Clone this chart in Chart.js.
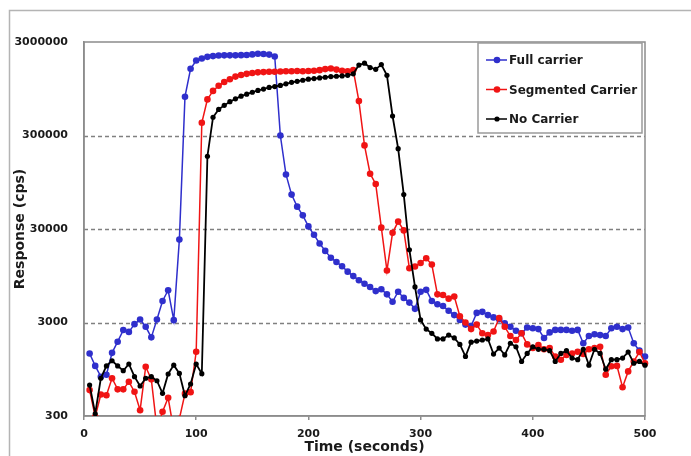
<!DOCTYPE html>
<html>
<head>
<meta charset="utf-8">
<script src="https://cdn.jsdelivr.net/npm/chart.js@4/dist/chart.umd.min.js"></script>
<style>
  html, body { margin: 0; padding: 0; background: #fff; }
  #wrap { width: 691px; height: 456px; position: relative; }
</style>
</head>
<body>
<div id="wrap"><canvas id="myChart"></canvas></div>
<script>
// time in seconds
const times = [5, 10, 15, 20, 25, 30, 35, 40, 45, 50,
  55, 60, 65, 70, 75, 80, 85, 90, 95, 100,
  105, 110, 115, 120, 125, 130, 135, 140, 145, 150,
  155, 160, 165, 170, 175, 180, 185, 190, 195, 200,
  205, 210, 215, 220, 225, 230, 235, 240, 245, 250,
  255, 260, 265, 270, 275, 280, 285, 290, 295, 300,
  305, 310, 315, 320, 325, 330, 335, 340, 345, 350,
  355, 360, 365, 370, 375, 380, 385, 390, 395, 400,
  405, 410, 415, 420, 425, 430, 435, 440, 445, 450,
  455, 460, 465, 470, 475, 480, 485, 490, 495, 500];

const fullCarrier = [1400, 1030, 790, 830, 1420, 1870, 2490, 2380, 2880, 3230,
  2700, 2080, 3230, 5100, 6640, 3180, 23100, 780000, 1550000, 1900000,
  2000000, 2080000, 2120000, 2150000, 2160000, 2160000, 2160000, 2170000, 2180000, 2210000,
  2250000, 2230000, 2200000, 2100000, 300000, 115000, 70000, 52000, 42000, 32000,
  26000, 21000, 17500, 14800, 13300, 12000, 10500, 9400, 8500, 7800,
  7200, 6500, 6800, 6000, 5000, 6400, 5500, 4900, 4200, 6400,
  6700, 5100, 4700, 4500, 4000, 3600, 3200, 2850, 2750, 3800,
  3900, 3600, 3400, 3250, 2950, 2700, 2450, 2300, 2650, 2600,
  2550, 2050, 2350, 2500, 2500, 2500, 2450, 2500, 1800, 2150,
  2250, 2200, 2150, 2600, 2700, 2550, 2650, 1800, 1500, 1300];

const segmentedCarrier = [568, 295, 510, 500, 760, 578, 578, 697, 546, 346,
  1010, 740, 220, 333, 470, 210, 280, 520, 540, 1460,
  410000, 730000, 900000, 1020000, 1120000, 1200000, 1280000, 1330000, 1370000, 1400000,
  1420000, 1430000, 1440000, 1440000, 1450000, 1460000, 1460000, 1470000, 1460000, 1470000,
  1480000, 1500000, 1540000, 1560000, 1520000, 1480000, 1460000, 1500000, 700000, 235000,
  117000, 91000, 31000, 10800, 27300, 36000, 29000, 11400, 11900, 13000,
  14600, 12500, 6000, 5900, 5400, 5700, 3500, 3000, 2550, 2850,
  2300, 2200, 2400, 3350, 2700, 2150, 1950, 2300, 1750, 1600,
  1720, 1550, 1600, 1300, 1200, 1350, 1400, 1460, 1380, 1550,
  1600, 1650, 830, 1020, 1030, 610, 900, 1150, 1450, 1100];

const noCarrier = [643, 317, 760, 1030, 1170, 1030, 915, 1080, 790, 628,
  760, 790, 715, 524, 844, 1050, 857, 494, 660, 1080,
  850, 180000, 470000, 570000, 630000, 690000, 740000, 790000, 830000, 870000,
  910000, 940000, 980000, 1000000, 1030000, 1070000, 1110000, 1140000, 1170000, 1200000,
  1220000, 1240000, 1260000, 1280000, 1290000, 1300000, 1320000, 1370000, 1700000, 1780000,
  1600000, 1530000, 1720000, 1320000, 485000, 217000, 70000, 18000, 7200, 3200,
  2550, 2300, 2000, 2000, 2200, 2050, 1750, 1300, 1850, 1900,
  1950, 2000, 1380, 1600, 1350, 1800, 1650, 1150, 1400, 1650,
  1550, 1550, 1500, 1150, 1400, 1500, 1250, 1200, 1550, 1050,
  1550, 1400, 950, 1200, 1200, 1250, 1450, 1100, 1150, 1050];

const seriesNames = ['Full carrier', 'Segmented Carrier', 'No Carrier'];
const yTicks = [300, 3000, 30000, 300000, 3000000];
const xTicks = [0, 100, 200, 300, 400, 500];

function toPoints(values) {
  return times.map((t, i) => ({x: t, y: values[i]}));
}

Chart.defaults.font.family = 'DejaVu Sans';
Chart.defaults.font.weight = 'bold';
Chart.defaults.color = '#1a1a1a';

// outer frame, dashed gridlines, plot area border
const frames = {
  id: 'frames',
  beforeDraw(chart) {
    const ctx = chart.ctx;
    ctx.save();
    ctx.strokeStyle = '#b4b4b4';
    ctx.lineWidth = 1.5;
    ctx.strokeRect(9.5, 10.5, 700, 470);
    ctx.restore();
  },
  beforeDatasetsDraw(chart) {
    const a = chart.chartArea;
    const ctx = chart.ctx;
    const ys = chart.scales.y;
    ctx.save();
    ctx.strokeStyle = '#808080';
    ctx.lineWidth = 1.5;
    ctx.setLineDash([4, 3]);
    yTicks.slice(1, -1).forEach(v => {
      const py = Math.round(ys.getPixelForValue(v)) + 0.5;
      ctx.beginPath();
      ctx.moveTo(a.left, py);
      ctx.lineTo(a.right, py);
      ctx.stroke();
    });
    ctx.setLineDash([]);
    ctx.strokeStyle = '#8c8c8c';
    ctx.strokeRect(a.left, a.top, a.right - a.left, a.bottom - a.top);
    ctx.restore();
  }
};

// legend drawn inside the plot, top right
const boxLegend = {
  id: 'boxLegend',
  afterDraw(chart) {
    const a = chart.chartArea;
    const ctx = chart.ctx;
    const bx = a.right - 167, by = a.top + 1, bw = 164, bh = 90;
    ctx.save();
    ctx.fillStyle = '#fff';
    ctx.fillRect(bx, by, bw, bh);
    ctx.strokeStyle = '#9a9a9a';
    ctx.lineWidth = 1.5;
    ctx.strokeRect(bx, by, bw, bh);
    ctx.font = 'bold 12px "DejaVu Sans"';
    ctx.textBaseline = 'middle';
    chart.data.datasets.forEach((ds, i) => {
      const y = by + 17 + i * 29.5;
      ctx.strokeStyle = ds.borderColor;
      ctx.lineWidth = 1.5;
      ctx.beginPath();
      ctx.moveTo(bx + 8, y);
      ctx.lineTo(bx + 29, y);
      ctx.stroke();
      ctx.fillStyle = ds.pointBackgroundColor;
      ctx.beginPath();
      ctx.arc(bx + 19, y, ds.pointRadius, 0, Math.PI * 2);
      ctx.fill();
      ctx.fillStyle = '#1a1a1a';
      ctx.fillText(ds.label, bx + 31, y + 1);
    });
    ctx.restore();
  }
};

const colors = ['#2f2fcc', '#f01414', '#000000'];
const radii = [3.3, 3.3, 2.6];
const widths = [1.5, 1.5, 1.8];
const dataSeries = [fullCarrier, segmentedCarrier, noCarrier];

const datasets = dataSeries.map((vals, i) => ({
  label: seriesNames[i],
  data: toPoints(vals),
  borderColor: colors[i],
  backgroundColor: colors[i],
  pointBackgroundColor: colors[i],
  pointBorderColor: colors[i],
  pointBorderWidth: 0,
  pointRadius: radii[i],
  borderWidth: widths[i],
  tension: 0,
  order: 2 - i,
  clip: {left: 10, right: 10, top: 10, bottom: 0}
}));

new Chart(document.getElementById('myChart'), {
  type: 'line',
  data: {datasets: datasets},
  options: {
    animation: false,
    responsive: true,
    maintainAspectRatio: false,
    layout: {padding: {top: 42, right: 46, left: 0, bottom: 0}},
    plugins: {
      legend: {display: false},
      tooltip: {enabled: false}
    },
    scales: {
      x: {
        type: 'linear',
        min: 0,
        max: 500,
        afterBuildTicks: s => { s.ticks = xTicks.map(v => ({value: v})); },
        afterFit: s => { s.height = 40; },
        grid: {drawOnChartArea: false, drawTicks: true, tickLength: 4, color: '#8c8c8c', lineWidth: 1.5},
        border: {display: true, color: '#8c8c8c', width: 1.5},
        ticks: {font: {size: 11, weight: 'bold'}, padding: 8, maxRotation: 0, color: '#1a1a1a'},
        title: {display: true, text: 'Time (seconds)', font: {size: 14, weight: 'bold'}, padding: {top: 0, bottom: 0}, color: '#1a1a1a'}
      },
      y: {
        type: 'logarithmic',
        min: 300,
        max: 3000000,
        afterBuildTicks: s => { s.ticks = yTicks.map(v => ({value: v})); },
        afterFit: s => { s.width = 84; },
        grid: {display: false},
        border: {display: true, color: '#8c8c8c', width: 1.5},
        ticks: {
          font: {size: 11, weight: 'bold'},
          padding: 8,
          color: '#1a1a1a',
          callback: v => String(v)
        },
        title: {display: true, text: 'Response (cps)', font: {size: 14, weight: 'bold'}, padding: {top: 12, bottom: 0}, color: '#1a1a1a'}
      }
    }
  },
  plugins: [frames, boxLegend]
});
</script>
</body>
</html>
